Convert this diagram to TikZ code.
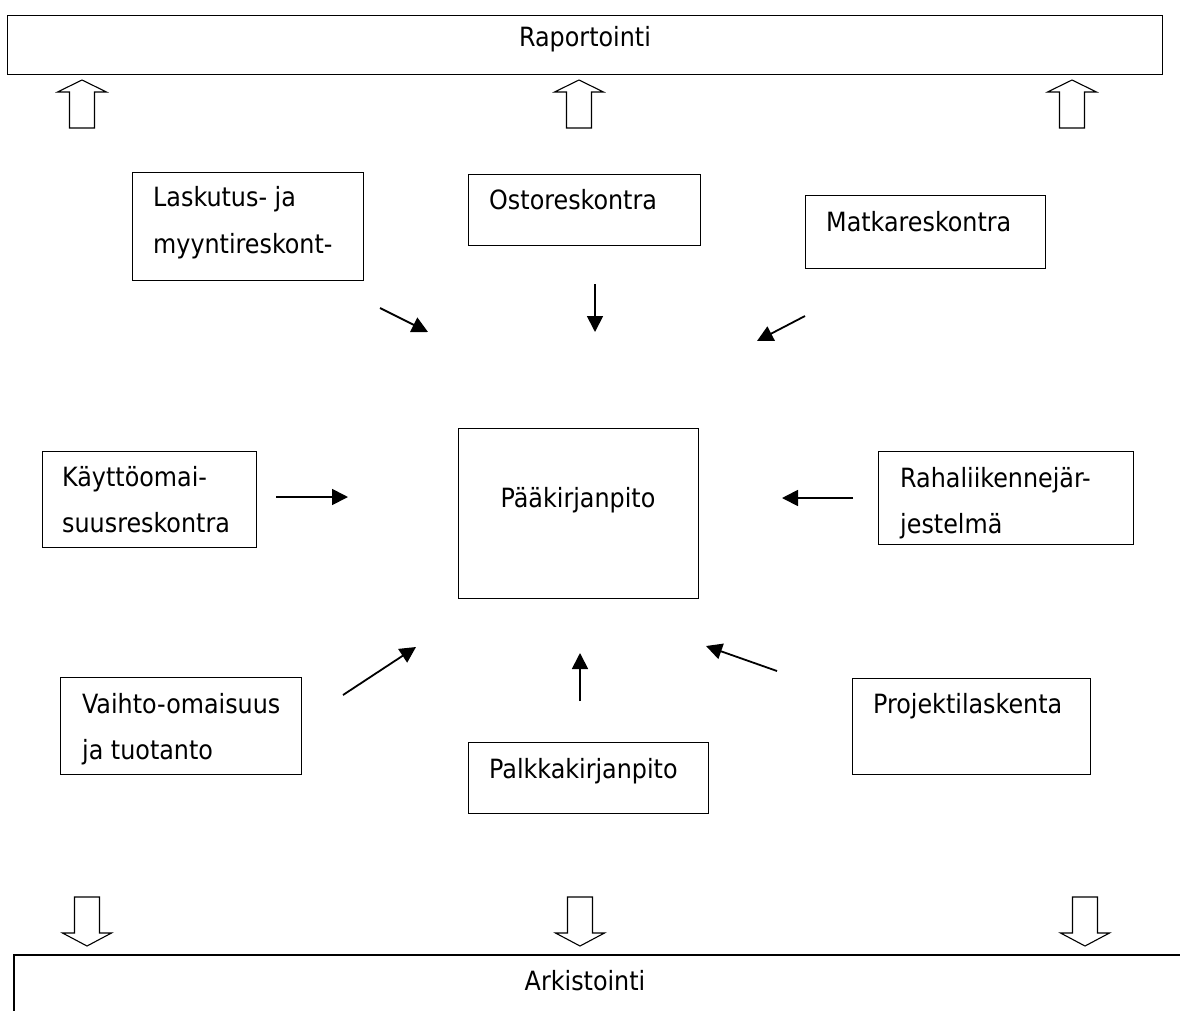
\documentclass[tikz,border=0pt]{standalone}
\usepackage{fontspec}
\setmainfont{DejaVu Sans Condensed}
\usetikzlibrary{arrows.meta}
\begin{document}
\begin{tikzpicture}[x=1pt,y=-1pt,
  box/.style={draw,line width=1.3pt,inner sep=0pt,anchor=north west},
  lbl/.style={anchor=base west,inner sep=0pt,font=\fontsize{26.5}{26.5}\selectfont},
  clbl/.style={anchor=base,inner sep=0pt,font=\fontsize{26.5}{26.5}\selectfont},
  flow/.style={line width=1.8pt,-{Triangle[length=16pt,width=16pt]}},
  blockarrow/.style={draw,line width=1.1pt,fill=white,line join=miter}]
\useasboundingbox (0,0) rectangle (1180,1010);
\fill[white] (0,0) rectangle (1180,1010);

% reporting bar
\node[box,minimum width=1155pt,minimum height=59pt] (rap) at (7,15) {};
\node[clbl] (raptxt) at (585,46) {Raportointi};

% hollow arrows up to the reporting bar
\foreach \cx in {82,579,1072}{
  \draw[blockarrow] (\cx-12.5,128) -- (\cx-12.5,92) -- (\cx-24.5,92) -- (\cx,80)
     -- (\cx+24.5,92) -- (\cx+12.5,92) -- (\cx+12.5,128) -- cycle;
}

% sub-ledgers
\node[box,minimum width=231pt,minimum height=108pt] (lask) at (132,172) {};
\node[lbl] at (153,206) {Laskutus- ja};
\node[lbl] at (153,253) {myyntireskont-};

\node[box,minimum width=232pt,minimum height=71pt] (osto) at (468,174) {};
\node[lbl] at (489,209) {Ostoreskontra};

\node[box,minimum width=240pt,minimum height=73pt] (matka) at (805,195) {};
\node[lbl] at (826,231) {Matkareskontra};

\node[box,minimum width=214pt,minimum height=96pt] (kayt) at (42,451) {};
\node[lbl] at (62,486) {Käyttöomai-};
\node[lbl] at (62,532) {suusreskontra};

\node[box,minimum width=240pt,minimum height=170pt] (paa) at (458,428) {};
\node[clbl] at (578,507) {Pääkirjanpito};

\node[box,minimum width=255pt,minimum height=93pt] (raha) at (878,451) {};
\node[lbl] at (900,487) {Rahaliikennejär-};
\node[lbl] at (900,533) {jestelmä};

\node[box,minimum width=241pt,minimum height=97pt] (vaih) at (60,677) {};
\node[lbl] at (82,713) {Vaihto-omaisuus};
\node[lbl] at (82,759) {ja tuotanto};

\node[box,minimum width=240pt,minimum height=71pt] (palk) at (468,742) {};
\node[lbl] at (489,778) {Palkkakirjanpito};

\node[box,minimum width=238pt,minimum height=96pt] (proj) at (852,678) {};
\node[lbl] at (873,713) {Projektilaskenta};

% flow arrows towards the general ledger
\coordinate (a1s) at (380,308); \coordinate (a1e) at (428,332);
\coordinate (a2s) at (595,284); \coordinate (a2e) at (595,332);
\coordinate (a3s) at (805,316); \coordinate (a3e) at (757,341);
\coordinate (a4s) at (276,497); \coordinate (a4e) at (348,497);
\coordinate (a5s) at (853,498); \coordinate (a5e) at (782,498);
\coordinate (a6s) at (343,695); \coordinate (a6e) at (416,647);
\coordinate (a7s) at (580,701); \coordinate (a7e) at (580,653);
\coordinate (a8s) at (777,671); \coordinate (a8e) at (706,646);
\foreach \i in {1,...,8}{ \draw[flow] (a\i s) -- (a\i e); }

% hollow arrows down to the archive
\foreach \cx in {87,580,1085}{
  \draw[blockarrow] (\cx-12.5,897) -- (\cx-12.5,933) -- (\cx-24.5,933) -- (\cx,946)
     -- (\cx+24.5,933) -- (\cx+12.5,933) -- (\cx+12.5,897) -- cycle;
}

% archive bar, running off the page
\draw[line width=1.3pt] (14,1012) -- (14,955) -- (1182,955);
\node[clbl] (ark) at (585,990) {Arkistointi};
\end{tikzpicture}
\end{document}
